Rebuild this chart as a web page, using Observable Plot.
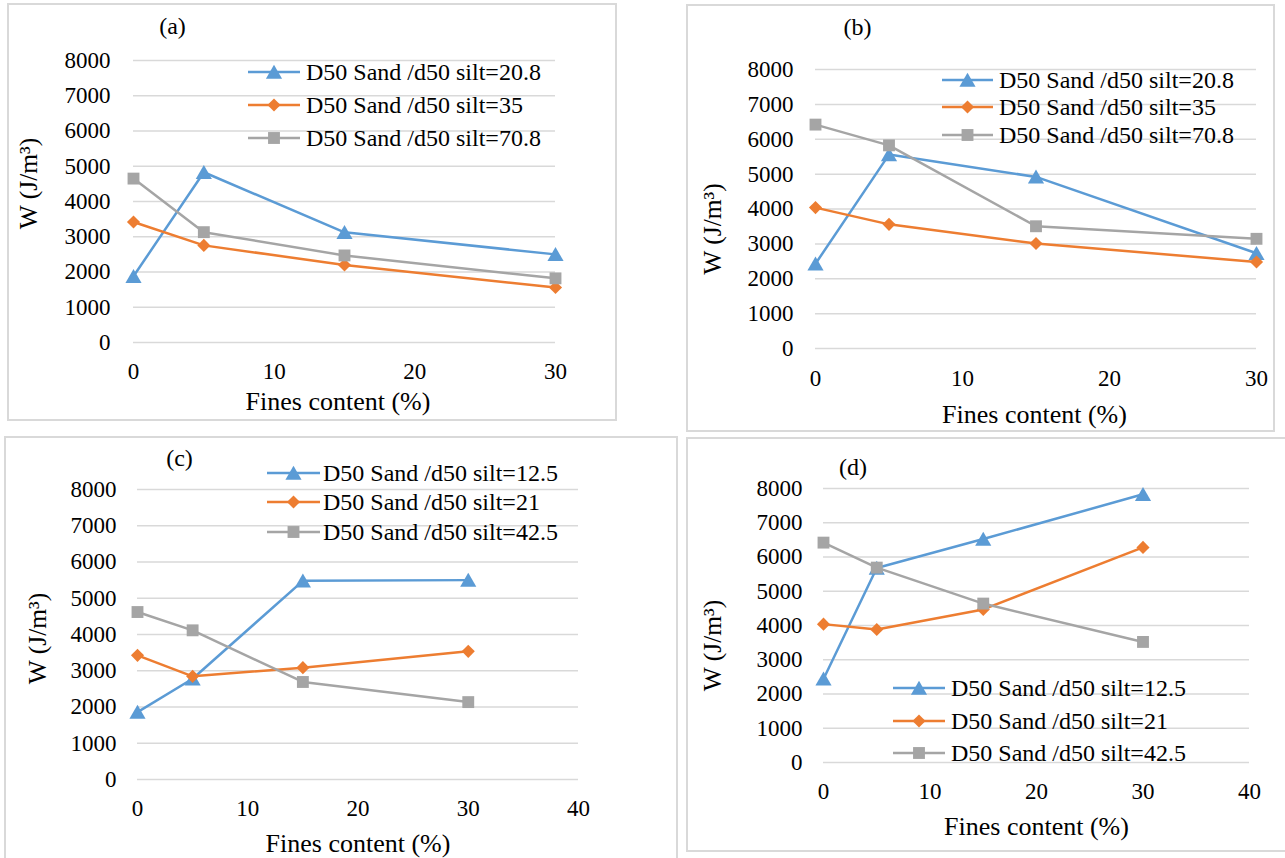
<!DOCTYPE html>
<html><head><meta charset="utf-8">
<script src="https://cdn.jsdelivr.net/npm/d3@7"></script>
<script src="https://cdn.jsdelivr.net/npm/@observablehq/plot@0.6"></script>
<style>
body{margin:0;background:#fff;}
#page{position:relative;width:1285px;height:858px;overflow:hidden;background:#fff;font-family:"Liberation Serif","Times New Roman",serif;color:#000;}
.panel{position:absolute;outline:2px solid #d9d9d9;outline-offset:-2px;}
.panel > svg{position:absolute;left:0;top:0;}
.panel svg text{font-family:"Liberation Serif","Times New Roman",serif;}
.leg{position:absolute;display:flex;align-items:center;font-size:24px;line-height:1;transform:translateY(-50%);white-space:nowrap;font-family:"Liberation Serif","Times New Roman",serif;}
.leg svg{display:block;}
</style></head><body><div id="page"></div>
<script>
// ---- data ----
const fines = [0, 5, 15, 30];
const aRatio20_8 = [1880, 4830, 3125, 2500];
const aRatio35   = [3420, 2755, 2200, 1560];
const aRatio70_8 = [4650, 3130, 2470, 1820];
const bRatio20_8 = [2430, 5560, 4920, 2730];
const bRatio35   = [4040, 3560, 3010, 2480];
const bRatio70_8 = [6420, 5825, 3505, 3145];
const cRatio12_5 = [1860, 2780, 5480, 5500];
const cRatio21   = [3425, 2845, 3085, 3535];
const cRatio42_5 = [4620, 4115, 2690, 2135];
const dRatio12_5 = [2440, 5680, 6525, 7830];
const dRatio21   = [4040, 3885, 4470, 6280];
const dRatio42_5 = [6420, 5690, 4640, 3520];
const legendAB = ["D50 Sand /d50 silt=20.8", "D50 Sand /d50 silt=35", "D50 Sand /d50 silt=70.8"];
const legendCD = ["D50 Sand /d50 silt=12.5", "D50 Sand /d50 silt=21", "D50 Sand /d50 silt=42.5"];
const yTicks = [0, 1000, 2000, 3000, 4000, 5000, 6000, 7000, 8000];
const xTicksAB = [0, 10, 20, 30];
const xTicksCD = [0, 10, 20, 30, 40];
const panelTitles = ["(a)", "(b)", "(c)", "(d)"];
const yTitle = "W (J/m\u00B3)";
const xTitle = "Fines content (%)";

// ---- styles ----
const colors = ["#5B9BD5", "#ED7D31", "#A5A5A5"];
const symbols = ["triangle", "diamond2", "square"];
const d3symbols = [d3.symbolTriangle, d3.symbolDiamond2, d3.symbolSquare];
const radii = [6, 5.9, 6.7];
const dys = [2, 0, 0];
const font = "'Liberation Serif','Times New Roman',serif";

const panels = [
  {title: panelTitles[0], series: [aRatio20_8, aRatio35, aRatio70_8], names: legendAB, xDomain: [0, 30], xTicks: xTicksAB,
   left: 7, top: 3, width: 610, height: 418, ml: 126, mr: 62, mt: 57, mb: 79, yPad: 23, xPad: 20,
   yT: [-105, -18], xT: [-6.5, 59], tT: [39, -34], leg: {x0: 248, x1: 300, tx: 306, rows: [72, 105, 138]}},
  {title: panelTitles[1], series: [bRatio20_8, bRatio35, bRatio70_8], names: legendAB, xDomain: [0, 30], xTicks: xTicksAB,
   left: 686, top: 4, width: 589, height: 428, ml: 129, mr: 19, mt: 65, mb: 84, yPad: 22, xPad: 21,
   yT: [-103, 20], xT: [-1.5, 66], tT: [42, -42], leg: {x0: 942, x1: 993, tx: 999, rows: [80, 107, 135]}},
  {title: panelTitles[2], series: [cRatio12_5, cRatio21, cRatio42_5], names: legendCD, xDomain: [0, 40], xTicks: xTicksCD,
   left: 4, top: 436, width: 674, height: 424, ml: 133, mr: 100, mt: 53, mb: 81, yPad: 21, xPad: 20,
   yT: [-100, 4], xT: [0, 64], tT: [42, -31], leg: {x0: 267, x1: 320, tx: 323, rows: [473, 502, 532]}},
  {title: panelTitles[3], series: [dRatio12_5, dRatio21, dRatio42_5], names: legendCD, xDomain: [0, 40], xTicks: xTicksCD,
   left: 686, top: 437, width: 601, height: 415, ml: 137, mr: 38, mt: 51, mb: 90, yPad: 21, xPad: 20,
   yT: [-110.5, 20], xT: [0, 64.5], tT: [29.5, -21], leg: {x0: 893, x1: 945, tx: 951, rows: [688, 721, 753]}}
];

const page = document.getElementById("page");

for (const p of panels) {
  const marks = [
    Plot.gridY(yTicks, {stroke: "#d9d9d9", strokeOpacity: 1, strokeWidth: 1.5}),
    Plot.axisY(yTicks, {tickSize: 0, tickPadding: p.yPad, fontSize: 23, label: null, tickFormat: d => String(d)}),
    Plot.axisX(p.xTicks, {tickSize: 0, tickPadding: p.xPad, fontSize: 23, label: null, tickFormat: d => String(d)})
  ];
  p.series.forEach((vals, i) => {
    const rows = fines.map((f, j) => ({fines: f, w: vals[j]}));
    marks.push(Plot.line(rows, {x: "fines", y: "w", stroke: colors[i], strokeWidth: 2.5}));
    marks.push(Plot.dot(rows, {x: "fines", y: "w", symbol: symbols[i], r: radii[i], fill: colors[i], stroke: "none", dy: dys[i]}));
  });
  const centered = {textAnchor: "middle", lineAnchor: "middle", fill: "#000"};
  marks.push(Plot.text([yTitle], {...centered, text: d => d, frameAnchor: "left", rotate: -90, dx: p.yT[0], dy: p.yT[1], fontSize: 25.5}));
  marks.push(Plot.text([xTitle], {...centered, text: d => d, frameAnchor: "bottom", dx: p.xT[0], dy: p.xT[1], fontSize: 26}));
  marks.push(Plot.text([p.title], {...centered, text: d => d, frameAnchor: "top-left", dx: p.tT[0], dy: p.tT[1], fontSize: 24}));

  const svg = Plot.plot({
    width: p.width, height: p.height,
    marginLeft: p.ml, marginRight: p.mr, marginTop: p.mt, marginBottom: p.mb,
    x: {domain: p.xDomain},
    y: {domain: [0, 8000]},
    style: {fontFamily: font, color: "#000", background: "transparent", overflow: "visible"},
    marks
  });
  const div = document.createElement("div");
  div.className = "panel";
  Object.assign(div.style, {left: p.left + "px", top: p.top + "px", width: p.width + "px", height: p.height + "px"});
  div.appendChild(svg);
  page.appendChild(div);

  // legend
  const lw = p.leg.x1 - p.leg.x0;
  p.names.forEach((name, i) => {
    const row = document.createElement("div");
    row.className = "leg";
    row.style.left = p.leg.x0 + "px";
    row.style.top = p.leg.rows[i] + "px";
    const size = Math.PI * radii[i] * radii[i];
    const path = d3.symbol(d3symbols[i], size)();
    const s = d3.create("svg").attr("width", lw).attr("height", 20).style("margin-right", (p.leg.tx - p.leg.x1) + "px");
    s.append("line").attr("x1", 0).attr("x2", lw).attr("y1", 10).attr("y2", 10).attr("stroke", colors[i]).attr("stroke-width", 2.5);
    s.append("path").attr("d", path).attr("fill", colors[i]).attr("transform", `translate(${lw / 2},${10 + dys[i]})`);
    row.appendChild(s.node());
    const t = document.createElement("span");
    t.textContent = name;
    row.appendChild(t);
    page.appendChild(row);
  });
}
</script></body></html>
